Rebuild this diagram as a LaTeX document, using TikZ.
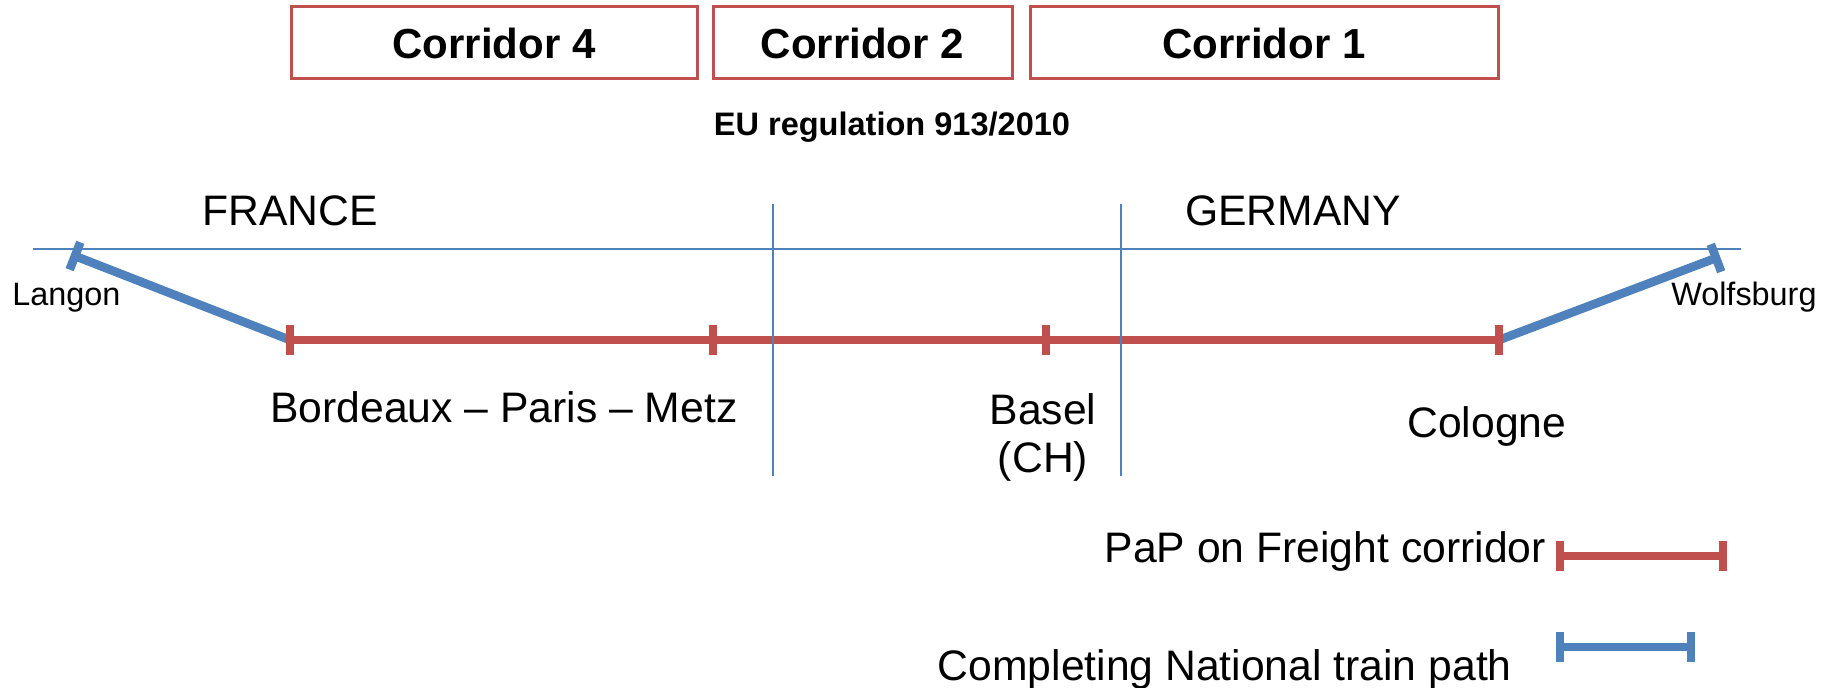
\documentclass[tikz,border=0pt]{standalone}
\usepackage{fontspec}
\setmainfont{Liberation Sans}
\usetikzlibrary{calc}
\definecolor{ored}{HTML}{C0504D}
\definecolor{oblue}{HTML}{4F81BD}
\begin{document}
\begin{tikzpicture}[x=0.75pt,y=-0.75pt,
  corrbox/.style={draw=ored, line width=2.25pt, fill=white, minimum height=54pt, inner sep=0pt, font=\fontsize{31.5}{36}\selectfont\bfseries},
  lab/.style={inner sep=0pt, font=\fontsize{32}{36}\selectfont},
  smalllab/.style={inner sep=0pt, font=\fontsize{24.3}{27}\selectfont},
  gridline/.style={draw=oblue, line width=1.1pt},
  redpath/.style={draw=ored, line width=6.5pt},
  bluepath/.style={draw=oblue, line width=6.5pt},
]
\useasboundingbox (0,0) rectangle (1828,688);

% corridor boxes
\node[corrbox, minimum width=304.5pt] (c4) at (494,43) {Corridor 4};
\node[corrbox, minimum width=224.25pt] (c2) at (862.5,43) {Corridor 2};
\node[corrbox, minimum width=351pt] (c1) at (1264,43) {Corridor 1};
\node[inner sep=0pt, font=\fontsize{24.4}{27}\selectfont\bfseries, anchor=base] (eu) at (892,136) {EU regulation 913/2010};

% country labels
\node[lab, anchor=base] (france) at (290,225) {FRANCE};
\node[lab, anchor=base] (germany) at (1293,225) {GERMANY};

% grid coordinates
\coordinate (hl) at (33,249);
\coordinate (hr) at (1741,249);
\coordinate (v1t) at (773,204);
\coordinate (v1b) at (773,476);
\coordinate (v2t) at (1121,204);
\coordinate (v2b) at (1121,476);

% stations
\coordinate (bordeaux) at (290,340);
\coordinate (metz) at (713,340);
\coordinate (basel) at (1046,340);
\coordinate (cologne) at (1499,340);
\coordinate (langon) at (75,256);
\coordinate (wolfsburg) at (1716,258);

\draw[gridline] (hl) -- (hr);

% national paths
\draw[bluepath] (bordeaux) -- (langon);
\draw[bluepath] ($(langon)!11pt!90:(bordeaux)$) -- ($(langon)!11pt!-90:(bordeaux)$);
\draw[bluepath] (cologne) -- (wolfsburg);
\draw[bluepath] ($(wolfsburg)!11pt!90:(cologne)$) -- ($(wolfsburg)!11pt!-90:(cologne)$);

% corridor path
\draw[redpath] (bordeaux) -- (cologne);
\foreach \c in {bordeaux,metz,basel,cologne}
  \draw[redpath] ([yshift=11.25pt]\c) -- ([yshift=-11.25pt]\c);

\draw[gridline] (v1t) -- (v1b);
\draw[gridline] (v2t) -- (v2b);

% station labels
\node[smalllab, anchor=base west] (langonlab) at (12,305) {Langon};
\node[smalllab, anchor=base west] (wolfslab) at (1671,305) {Wolfsburg};
\node[lab, anchor=base west] (bpm) at (270,422) {Bordeaux -- Paris -- Metz};
\node[lab, anchor=north, align=center] (basellab) at (1043,393) {Basel\\(CH)};
\node[lab, anchor=base west] (colognelab) at (1407,437) {Cologne};

% legend
\node[lab, anchor=base east] (leg1) at (1546,562) {PaP on Freight corridor};
\node[lab, anchor=base east] (leg2) at (1512,680) {Completing National train path};
\coordinate (l1a) at (1560,556);
\coordinate (l1b) at (1723,556);
\coordinate (l2a) at (1560,647);
\coordinate (l2b) at (1691,647);
\draw[redpath] (l1a) -- (l1b);
\foreach \c in {l1a,l1b}
  \draw[redpath] ([yshift=11pt]\c) -- ([yshift=-11pt]\c);
\draw[bluepath] (l2a) -- (l2b);
\foreach \c in {l2a,l2b}
  \draw[bluepath] ([yshift=11pt]\c) -- ([yshift=-11pt]\c);
\end{tikzpicture}
\end{document}
